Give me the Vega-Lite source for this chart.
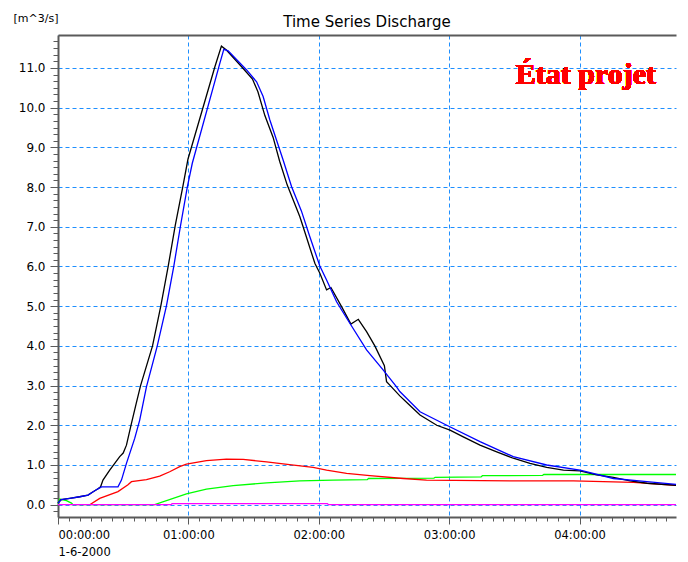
{
  "$schema": "https://vega.github.io/schema/vega-lite/v6.json",
  "width": 618,
  "height": 482,
  "autosize": {"type": "none"},
  "padding": {"left": 58, "top": 35, "right": 12, "bottom": 45},
  "background": "white",
  "title": {
    "text": "Time Series Discharge",
    "font": "DejaVu Sans",
    "fontSize": 15,
    "fontWeight": "normal",
    "color": "#000000",
    "anchor": "middle",
    "frame": "group",
    "offset": 0,
    "dy": 18
  },
  "config": {
    "view": {"stroke": null},
    "axis": {
      "labelFont": "DejaVu Sans",
      "labelFontSize": 12,
      "labelColor": "#000000",
      "titleFont": "DejaVu Sans",
      "titleFontSize": 11,
      "titleFontWeight": "normal",
      "titleColor": "#000000",
      "domainColor": "#5a5a5a",
      "domainWidth": 2,
      "tickColor": "#5a5a5a",
      "tickWidth": 1,
      "gridColor": "#1e8fff",
      "gridDash": [4, 3],
      "gridWidth": 1,
      "gridOpacity": 1
    }
  },
  "datasets": {
    "flows": [
      {"s": "green", "m": 0, "q": 0.03},
      {"s": "green", "m": 0.8, "q": 0.14},
      {"s": "green", "m": 3.9, "q": 0.1},
      {"s": "green", "m": 6.2, "q": 0.04},
      {"s": "green", "m": 6.9, "q": 0},
      {"s": "green", "m": 44.5, "q": 0},
      {"s": "green", "m": 59.1, "q": 0.27},
      {"s": "green", "m": 68.3, "q": 0.39},
      {"s": "green", "m": 80.6, "q": 0.48},
      {"s": "green", "m": 96, "q": 0.55},
      {"s": "green", "m": 111.3, "q": 0.6},
      {"s": "green", "m": 126.6, "q": 0.62},
      {"s": "green", "m": 142.3, "q": 0.63},
      {"s": "green", "m": 142.9, "q": 0.66},
      {"s": "green", "m": 173, "q": 0.67},
      {"s": "green", "m": 173.6, "q": 0.69},
      {"s": "green", "m": 194.7, "q": 0.7},
      {"s": "green", "m": 195.3, "q": 0.73},
      {"s": "green", "m": 223, "q": 0.74},
      {"s": "green", "m": 223.6, "q": 0.76},
      {"s": "green", "m": 284.4, "q": 0.76},

      {"s": "red", "m": 14.6, "q": 0},
      {"s": "red", "m": 19.2, "q": 0.16},
      {"s": "red", "m": 27.6, "q": 0.33},
      {"s": "red", "m": 32.2, "q": 0.5},
      {"s": "red", "m": 33.8, "q": 0.58},
      {"s": "red", "m": 40.7, "q": 0.63},
      {"s": "red", "m": 46.8, "q": 0.72},
      {"s": "red", "m": 51.4, "q": 0.83},
      {"s": "red", "m": 56, "q": 0.96},
      {"s": "red", "m": 59.1, "q": 1.02},
      {"s": "red", "m": 68.3, "q": 1.11},
      {"s": "red", "m": 77.5, "q": 1.15},
      {"s": "red", "m": 85.2, "q": 1.14},
      {"s": "red", "m": 96, "q": 1.08},
      {"s": "red", "m": 103.6, "q": 1.03},
      {"s": "red", "m": 117.4, "q": 0.94},
      {"s": "red", "m": 123.6, "q": 0.87},
      {"s": "red", "m": 132.8, "q": 0.79},
      {"s": "red", "m": 143.5, "q": 0.73},
      {"s": "red", "m": 158.9, "q": 0.66},
      {"s": "red", "m": 169.6, "q": 0.62},
      {"s": "red", "m": 208, "q": 0.6},
      {"s": "red", "m": 237.2, "q": 0.6},
      {"s": "red", "m": 264.8, "q": 0.56},
      {"s": "red", "m": 284.4, "q": 0.49},

      {"s": "black", "m": 0, "q": 0.04},
      {"s": "black", "m": 1.5, "q": 0.13},
      {"s": "black", "m": 5.4, "q": 0.16},
      {"s": "black", "m": 10, "q": 0.2},
      {"s": "black", "m": 13.8, "q": 0.24},
      {"s": "black", "m": 16, "q": 0.32},
      {"s": "black", "m": 18.4, "q": 0.4},
      {"s": "black", "m": 19.6, "q": 0.45},
      {"s": "black", "m": 20.7, "q": 0.62},
      {"s": "black", "m": 23.8, "q": 0.87},
      {"s": "black", "m": 28.4, "q": 1.21},
      {"s": "black", "m": 30, "q": 1.3},
      {"s": "black", "m": 31.5, "q": 1.5},
      {"s": "black", "m": 33.8, "q": 2.05},
      {"s": "black", "m": 36, "q": 2.55},
      {"s": "black", "m": 38, "q": 3.0},
      {"s": "black", "m": 43.5, "q": 4.0},
      {"s": "black", "m": 47.3, "q": 5.0},
      {"s": "black", "m": 50.7, "q": 6.0},
      {"s": "black", "m": 54, "q": 7.05},
      {"s": "black", "m": 57.4, "q": 8.0},
      {"s": "black", "m": 59.8, "q": 8.7},
      {"s": "black", "m": 72.2, "q": 11.03},
      {"s": "black", "m": 75.2, "q": 11.55},
      {"s": "black", "m": 77.5, "q": 11.45},
      {"s": "black", "m": 84.5, "q": 11.03},
      {"s": "black", "m": 89.5, "q": 10.72},
      {"s": "black", "m": 92, "q": 10.4},
      {"s": "black", "m": 95.2, "q": 9.8},
      {"s": "black", "m": 99, "q": 9.25},
      {"s": "black", "m": 102, "q": 8.65},
      {"s": "black", "m": 105.5, "q": 8.05},
      {"s": "black", "m": 111.3, "q": 7.25},
      {"s": "black", "m": 112.8, "q": 7.0},
      {"s": "black", "m": 118.2, "q": 6.08},
      {"s": "black", "m": 120.5, "q": 5.83},
      {"s": "black", "m": 123.6, "q": 5.41},
      {"s": "black", "m": 125.6, "q": 5.47},
      {"s": "black", "m": 130.5, "q": 4.99},
      {"s": "black", "m": 134.8, "q": 4.55},
      {"s": "black", "m": 138.2, "q": 4.67},
      {"s": "black", "m": 142, "q": 4.36},
      {"s": "black", "m": 145.8, "q": 4.0},
      {"s": "black", "m": 150.2, "q": 3.5},
      {"s": "black", "m": 151.2, "q": 3.1},
      {"s": "black", "m": 152.7, "q": 3.01},
      {"s": "black", "m": 157.3, "q": 2.74},
      {"s": "black", "m": 161, "q": 2.55},
      {"s": "black", "m": 166.6, "q": 2.26},
      {"s": "black", "m": 174.3, "q": 2.0},
      {"s": "black", "m": 180.4, "q": 1.88},
      {"s": "black", "m": 186.5, "q": 1.71},
      {"s": "black", "m": 194.2, "q": 1.5},
      {"s": "black", "m": 201.9, "q": 1.33},
      {"s": "black", "m": 209.5, "q": 1.17},
      {"s": "black", "m": 217.2, "q": 1.04},
      {"s": "black", "m": 224.9, "q": 0.94},
      {"s": "black", "m": 232.6, "q": 0.87},
      {"s": "black", "m": 240.2, "q": 0.85},
      {"s": "black", "m": 247.9, "q": 0.75},
      {"s": "black", "m": 255.6, "q": 0.69},
      {"s": "black", "m": 263.3, "q": 0.6},
      {"s": "black", "m": 271, "q": 0.54},
      {"s": "black", "m": 284.4, "q": 0.49},

      {"s": "blue", "m": 0, "q": 0.04},
      {"s": "blue", "m": 1.5, "q": 0.13},
      {"s": "blue", "m": 5.4, "q": 0.16},
      {"s": "blue", "m": 10, "q": 0.2},
      {"s": "blue", "m": 13.8, "q": 0.24},
      {"s": "blue", "m": 16, "q": 0.32},
      {"s": "blue", "m": 18.4, "q": 0.4},
      {"s": "blue", "m": 20, "q": 0.45},
      {"s": "blue", "m": 27.6, "q": 0.45},
      {"s": "blue", "m": 29.2, "q": 0.62},
      {"s": "blue", "m": 31.5, "q": 1.04},
      {"s": "blue", "m": 35.3, "q": 1.67},
      {"s": "blue", "m": 37.6, "q": 2.13},
      {"s": "blue", "m": 40.7, "q": 2.97},
      {"s": "blue", "m": 45.6, "q": 3.98},
      {"s": "blue", "m": 49.9, "q": 5.01},
      {"s": "blue", "m": 53.3, "q": 6.01},
      {"s": "blue", "m": 56.3, "q": 7.0},
      {"s": "blue", "m": 59.5, "q": 8.0},
      {"s": "blue", "m": 61.8, "q": 8.6},
      {"s": "blue", "m": 74.5, "q": 11.12},
      {"s": "blue", "m": 76.3, "q": 11.47},
      {"s": "blue", "m": 78.3, "q": 11.43},
      {"s": "blue", "m": 86.8, "q": 10.95},
      {"s": "blue", "m": 91.4, "q": 10.65},
      {"s": "blue", "m": 94.4, "q": 10.28},
      {"s": "blue", "m": 97.5, "q": 9.69},
      {"s": "blue", "m": 103.6, "q": 8.68},
      {"s": "blue", "m": 107.5, "q": 8.01},
      {"s": "blue", "m": 112, "q": 7.4},
      {"s": "blue", "m": 115.9, "q": 6.75},
      {"s": "blue", "m": 120.5, "q": 6.01},
      {"s": "blue", "m": 123.6, "q": 5.66},
      {"s": "blue", "m": 128.2, "q": 5.11},
      {"s": "blue", "m": 134.3, "q": 4.57},
      {"s": "blue", "m": 142, "q": 3.9},
      {"s": "blue", "m": 149.7, "q": 3.39},
      {"s": "blue", "m": 155.8, "q": 2.97},
      {"s": "blue", "m": 157.3, "q": 2.85},
      {"s": "blue", "m": 166.6, "q": 2.34},
      {"s": "blue", "m": 178.9, "q": 2.0},
      {"s": "blue", "m": 194.2, "q": 1.59},
      {"s": "blue", "m": 209.5, "q": 1.21},
      {"s": "blue", "m": 224.9, "q": 1.0},
      {"s": "blue", "m": 240.2, "q": 0.87},
      {"s": "blue", "m": 255.6, "q": 0.66},
      {"s": "blue", "m": 271, "q": 0.58},
      {"s": "blue", "m": 284.4, "q": 0.51},

      {"s": "magenta", "m": 0, "q": 0},
      {"s": "magenta", "m": 52, "q": 0},
      {"s": "magenta", "m": 52.5, "q": 0.025},
      {"s": "magenta", "m": 124, "q": 0.025},
      {"s": "magenta", "m": 124.5, "q": 0},
      {"s": "magenta", "m": 284.4, "q": 0}
    ]
  },
  "data": {"name": "flows"},
  "layer": [
    {
      "mark": {"type": "line", "strokeWidth": 1.3, "interpolate": "linear"},
      "encoding": {
        "x": {
          "field": "m",
          "type": "quantitative",
          "scale": {"domain": [0, 284.4], "nice": false, "zero": false},
          "axis": {
            "title": null,
            "values": [0, 60, 120, 180, 240],
            "grid": true,
            "tickSize": 7,
            "labelPadding": 5,
            "labelFontSize": 11.5,
            "labelLineHeight": 17,
            "labelBaseline": "top",
            "labelExpr": "datum.value == 0 ? ['00:00:00', '1-6-2000'] : '0' + floor(datum.value / 60) + ':00:00'"
          }
        },
        "y": {
          "field": "q",
          "type": "quantitative",
          "scale": {"domain": [-0.31, 11.83], "nice": false, "zero": false},
          "axis": {
            "title": "[m^3/s]",
            "titleAngle": 0,
            "titleX": 0,
            "titleY": -17,
            "titleAlign": "right",
            "titleBaseline": "middle",
            "values": [0, 1, 2, 3, 4, 5, 6, 7, 8, 9, 10, 11],
            "format": ".1f",
            "grid": true,
            "tickSize": 8,
            "labelPadding": 5
          }
        },
        "color": {
          "field": "s",
          "type": "nominal",
          "scale": {
            "domain": ["green", "red", "black", "blue", "magenta"],
            "range": ["#00ff00", "#ff0000", "#000000", "#0000ff", "#ff00ff"]
          },
          "legend": null
        }
      }
    },
    {
      "mark": {"type": "point", "opacity": 0},
      "encoding": {
        "x": {
          "field": "m",
          "type": "quantitative",
          "scale": {"domain": [0, 284.4], "nice": false, "zero": false},
          "axis": {
            "orient": "bottom",
            "title": null,
            "labels": false,
            "grid": false,
            "domain": false,
            "tickSize": 4,
            "values": [0, 5, 10, 15, 20, 25, 30, 35, 40, 45, 50, 55, 60, 65, 70, 75, 80, 85, 90, 95, 100, 105, 110, 115, 120, 125, 130, 135, 140, 145, 150, 155, 160, 165, 170, 175, 180, 185, 190, 195, 200, 205, 210, 215, 220, 225, 230, 235, 240, 245, 250, 255, 260, 265, 270, 275, 280]
          }
        },
        "y": {
          "field": "q",
          "type": "quantitative",
          "scale": {"domain": [-0.31, 11.83], "nice": false, "zero": false},
          "axis": {
            "orient": "left",
            "title": null,
            "labels": false,
            "grid": false,
            "domain": false,
            "tickSize": 5,
            "values": [-0.1667, 0, 0.1667, 0.3333, 0.5, 0.6667, 0.8333, 1, 1.1667, 1.3333, 1.5, 1.6667, 1.8333, 2, 2.1667, 2.3333, 2.5, 2.6667, 2.8333, 3, 3.1667, 3.3333, 3.5, 3.6667, 3.8333, 4, 4.1667, 4.3333, 4.5, 4.6667, 4.8333, 5, 5.1667, 5.3333, 5.5, 5.6667, 5.8333, 6, 6.1667, 6.3333, 6.5, 6.6667, 6.8333, 7, 7.1667, 7.3333, 7.5, 7.6667, 7.8333, 8, 8.1667, 8.3333, 8.5, 8.6667, 8.8333, 9, 9.1667, 9.3333, 9.5, 9.6667, 9.8333, 10, 10.1667, 10.3333, 10.5, 10.6667, 10.8333, 11, 11.1667, 11.3333, 11.5, 11.6667]
          }
        }
      }
    },
    {
      "mark": {"type": "point", "opacity": 0},
      "encoding": {
        "x": {
          "field": "m",
          "type": "quantitative",
          "scale": {"domain": [0, 284.4], "nice": false, "zero": false},
          "axis": {
            "orient": "top",
            "title": null,
            "labels": false,
            "ticks": false,
            "grid": false,
            "domain": true
          }
        },
        "y": {
          "field": "q",
          "type": "quantitative",
          "scale": {"domain": [-0.31, 11.83], "nice": false, "zero": false},
          "axis": null
        }
      }
    },
    {
      "mark": {
        "type": "text",
        "text": "État projet",
        "font": "Liberation Serif",
        "fontSize": 30,
        "fontWeight": "bold",
        "color": "#ff0000",
        "align": "right",
        "baseline": "alphabetic"
      },
      "encoding": {
        "x": {"datum": 275.2, "type": "quantitative", "scale": {"domain": [0, 284.4], "nice": false, "zero": false}, "axis": null},
        "y": {"datum": 10.6, "type": "quantitative", "scale": {"domain": [-0.31, 11.83], "nice": false, "zero": false}, "axis": null}
      }
    }
  ],
  "resolve": {"axis": {"x": "independent", "y": "independent"}}
}
